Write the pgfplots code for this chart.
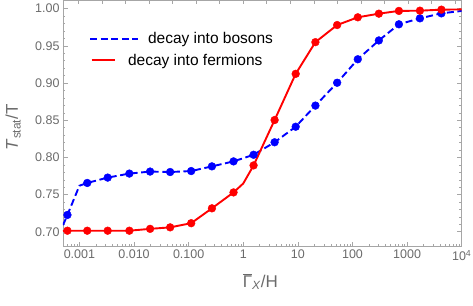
\documentclass[border=0pt]{standalone}
\usepackage{fontspec}
\setmainfont{Liberation Sans}
\usepackage{pgfplots}
\usepackage{pgfplotstable}
\pgfplotsset{compat=1.18}
\definecolor{axgray}{gray}{0.65}
\definecolor{lblgray}{gray}{0.42}

\pgfplotstableread{
x y
5e-4 0.709
6.03e-4 0.7227
1e-3 0.762
1.39e-3 0.7657
3.29e-3 0.7729
8.20e-3 0.7783
0.01968 0.7810
0.0458 0.7804
0.1112 0.7817
0.2667 0.7880
0.6637 0.7947
1.545 0.8036
3.75 0.8204
9.12 0.8413
20.94 0.8697
52.36 0.9004
125.0 0.9320
304.1 0.9573
707.9 0.9790
1718 0.9870
4246 0.9937
10000 0.9970
}\bosonline

\pgfplotstableread{
x y
6.03e-4 0.7227
1.39e-3 0.7657
3.29e-3 0.7729
8.20e-3 0.7783
0.01968 0.7810
0.0458 0.7804
0.1112 0.7817
0.2667 0.7880
0.6637 0.7947
1.545 0.8036
3.75 0.8204
9.12 0.8413
20.94 0.8697
52.36 0.9004
125.0 0.9320
304.1 0.9573
707.9 0.9790
1718 0.9870
4246 0.9937
}\bosonmarks

\pgfplotstableread{
x y
5e-4 0.7010
6.03e-4 0.7015
1.39e-3 0.7015
3.29e-3 0.7015
8.20e-3 0.7015
0.01968 0.7040
0.0458 0.7060
0.1112 0.7116
0.2667 0.7316
0.6637 0.7530
1 0.7650
1.545 0.7893
3.75 0.8503
9.12 0.9124
20.94 0.9550
52.36 0.9780
125.0 0.9884
304.1 0.9933
707.9 0.9970
1718 0.9973
4246 0.9987
10000 0.9990
}\fermionline

\pgfplotstableread{
x y
6.03e-4 0.7015
1.39e-3 0.7015
3.29e-3 0.7015
8.20e-3 0.7015
0.01968 0.7040
0.0458 0.7060
0.1112 0.7116
0.2667 0.7316
0.6637 0.7530
1.545 0.7893
3.75 0.8503
9.12 0.9124
20.94 0.9550
52.36 0.9780
125.0 0.9884
304.1 0.9933
707.9 0.9970
1718 0.9973
4246 0.9987
}\fermionmarks

\pgfplotsset{
  longleg/.style={legend image code/.code={\draw[##1, line width=1.9pt] (0pt,0pt) -- (48pt,0pt);}},
  shortleg/.style={legend image code/.code={\path[draw=none,fill=none] (0pt,-1pt) rectangle (48pt,1pt); \draw[##1, line width=1.9pt] (1.5pt,0pt) -- (25pt,0pt);}},
}

\begin{document}
\begin{tikzpicture}
\begin{axis}[
  name=ax,
  scale only axis, width=398.7pt, height=246.2pt,
  xmode=log, xmin=5e-4, xmax=1e4, ymin=0.680, ymax=1.011,
  xtick={1e-3,1e-2,1e-1,1,10,100,1000,10000},
  xticklabels={0.001,0.010,0.100,1,10,100,1000,10\textsuperscript{4}},
  minor xtick={6e-4,7e-4,8e-4,9e-4,2e-3,3e-3,4e-3,5e-3,6e-3,7e-3,8e-3,9e-3,
    2e-2,3e-2,4e-2,5e-2,6e-2,7e-2,8e-2,9e-2,0.2,0.3,0.4,0.5,0.6,0.7,0.8,0.9,
    2,3,4,5,6,7,8,9,20,30,40,50,60,70,80,90,200,300,400,500,600,700,800,900,
    2000,3000,4000,5000,6000,7000,8000,9000},
  ytick={0.70,0.75,0.80,0.85,0.90,0.95,1.00},
  minor y tick num=4,
  /pgf/number format/assume math mode=true,
  yticklabel style={/pgf/number format/.cd,fixed,fixed zerofill,precision=2},
  tick align=inside,
  xtick pos=left, ytick pos=both,
  major tick length=5pt, minor tick length=2.5pt,
  axis line style={axgray, line width=0.9pt},
  every tick/.style={axgray, line width=0.7pt},
  every minor tick/.style={axgray, line width=0.5pt},
  tick label style={font=\fontsize{12.5}{14}\selectfont, text=lblgray},
  xlabel={$\overline{\mbox{Γ}}$\textsubscript{\textit{X}}/H},
  ylabel={\textit{T}\textsubscript{stat}/T},
  label style={font=\fontsize{17}{19}\selectfont, text=lblgray},
  xlabel style={at={(axis description cs:0.495,-0.142)}, anchor=center},
  ylabel style={at={(axis description cs:-0.125,0.485)}, anchor=center},
  legend style={draw=none, fill=none, at={(axis description cs:0.065,0.878)},
    anchor=north west, font=\fontsize{15.5}{18}\selectfont, row sep=4.5pt,
    inner sep=0pt, nodes={inner sep=2pt}},
  legend cell align=left,
]
\addplot[blue, line width=1.9pt, dash pattern=on 7pt off 3.6pt, no markers, longleg]
  table[x=x,y=y] {\bosonline};
\addlegendentry{\hspace*{7pt}decay into bosons}
\addplot[blue, only marks, mark=*, mark size=3.9pt, forget plot]
  table[x=x,y=y] {\bosonmarks};
\addplot[red, line width=1.9pt, no markers, shortleg]
  table[x=x,y=y] {\fermionline};
\addlegendentry{\hspace*{-13pt}decay into fermions}
\addplot[red, only marks, mark=*, mark size=3.9pt, forget plot]
  table[x=x,y=y] {\fermionmarks};
\end{axis}
\begin{axis}[
  at={(ax.south west)}, anchor=south west,
  scale only axis, width=398.7pt, height=246.2pt,
  xmode=log, xmin=5e-4, xmax=1e4, ymin=0.680, ymax=1.011,
  hide y axis, axis x line*=top,
  xtick={0.000962,0.002594,0.007,0.01888,0.05093,0.1374,0.3707,1,2.698,7.278,19.63,52.97,142.9,385.5,1040,2805,7568},
  xticklabels={}, minor xtick={},
  tick align=inside, major tick length=4pt,
  axis line style={axgray, line width=0.9pt},
  every tick/.style={axgray, line width=0.7pt},
]
\end{axis}
\pgfresetboundingbox
\path[use as bounding box] ([shift={(-63pt,-58.3pt)}]ax.south west) rectangle ([shift={(11.3pt,0.5pt)}]ax.north east);
\end{tikzpicture}
\end{document}
